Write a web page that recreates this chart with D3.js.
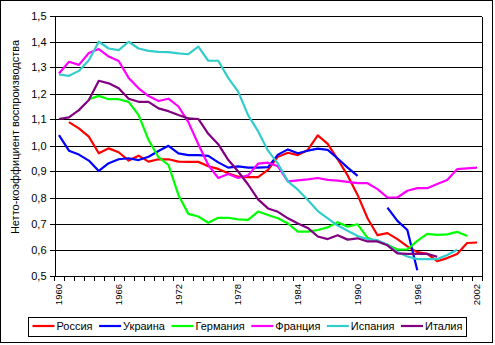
<!DOCTYPE html>
<html><head><meta charset="utf-8">
<script src="https://cdn.jsdelivr.net/npm/d3@7/dist/d3.min.js"></script>
<style>
html,body{margin:0;padding:0;background:#fff;}
svg{display:block;font-family:"Liberation Sans",Arial,sans-serif;}
</style></head>
<body>
<svg id="chart" width="495" height="345"></svg>
<script>
const years = [1960,1961,1962,1963,1964,1965,1966,1967,1968,1969,
  1970,1971,1972,1973,1974,1975,1976,1977,1978,1979,
  1980,1981,1982,1983,1984,1985,1986,1987,1988,1989,
  1990,1991,1992,1993,1994,1995,1996,1997,1998,1999,
  2000,2001,2002];
const xTickLabels = [1960,1966,1972,1978,1984,1990,1996,2002];
const yTicks = [0.5,0.6,0.7,0.8,0.9,1.0,1.1,1.2,1.3,1.4,1.5];
const seriesNames = ["Россия","Украина","Германия","Франция","Испания","Италия"];
const seriesColors = ["#FF0000","#0000FF","#00FF00","#FF00FF","#33CCCC","#800080"];

const russia = [null,1.09,1.066,1.034,0.97,0.989,0.974,0.942,0.961,0.938,
  0.947,0.947,0.938,0.937,0.937,0.92,0.91,0.893,0.88,0.878,
  0.878,0.906,0.957,0.972,0.963,0.983,1.039,1.006,0.947,0.885,
  0.81,0.72,0.655,0.663,0.64,0.612,0.59,0.583,0.555,0.567,
  0.583,0.625,0.627];
const ukraine = [1.04,0.98,0.965,0.942,0.902,0.932,0.947,0.951,0.944,0.957,
  0.979,0.999,0.97,0.963,0.963,0.96,0.935,0.915,0.92,0.915,
  0.915,0.917,0.965,0.985,0.97,0.98,0.988,0.983,0.95,0.915,
  0.883,null,null,0.761,0.71,0.675,0.52,null,null,null,
  null,null,null];
const germany = [null,null,null,1.178,1.191,1.178,1.178,1.168,1.117,1.021,
  0.955,0.925,0.81,0.737,0.727,0.703,0.722,0.722,0.716,0.714,
  0.746,0.733,0.72,0.70,0.669,0.669,0.675,0.685,0.705,0.688,
  0.697,0.645,0.631,0.618,0.6,0.6,0.633,0.66,0.656,0.658,
  0.668,0.652,null];
const france = [1.277,1.322,1.31,1.356,1.371,1.342,1.325,1.26,1.22,1.19,
  1.171,1.18,1.15,1.09,1.005,0.925,0.875,0.89,0.875,0.885,
  0.93,0.934,0.92,0.862,0.866,0.87,0.875,0.868,0.865,0.86,
  0.855,0.855,0.832,0.80,0.80,0.826,0.836,0.836,0.852,0.867,
  0.909,0.912,0.915];
const spain = [1.273,1.268,1.287,1.328,1.399,1.373,1.367,1.399,1.373,1.364,
  1.36,1.359,1.354,1.351,1.38,1.326,1.326,1.26,1.207,1.117,
  1.055,0.98,0.93,0.862,0.83,0.79,0.748,0.72,0.692,0.672,
  0.652,0.64,0.636,0.618,0.59,0.573,0.563,0.563,0.563,0.579,
  0.599,null,null];
const italy = [1.102,1.108,1.136,1.175,1.249,1.239,1.22,1.18,1.168,1.168,
  1.143,1.132,1.117,1.104,1.102,1.045,1.005,0.945,0.90,0.85,
  0.793,0.758,0.745,0.72,0.70,0.683,0.65,0.64,0.655,0.638,
  0.643,0.631,0.631,0.616,0.585,0.583,0.583,0.583,0.572,null,
  null,null,null];
const seriesValues = [russia,ukraine,germany,france,spain,italy];

const W = 495, H = 345;
const plot = {left:54, right:482, top:15.5, bottom:275.5};
const svg = d3.select("#chart");

// outer frame
svg.append("rect").attr("x",0.5).attr("y",0.5).attr("width",492).attr("height",342)
  .attr("fill","#fff").attr("stroke","#000").attr("stroke-width",1);

const x = d3.scaleBand().domain(years).range([plot.left, plot.right]).padding(0);
const y = d3.scaleLinear().domain([0.5,1.5]).range([plot.bottom, plot.top]);
const fmt = v => d3.format(".1f")(v).replace(".", ",");

// gridlines
svg.append("g").selectAll("line").data(yTicks).join("line")
  .attr("x1",plot.left).attr("x2",plot.right)
  .attr("y1",d=>Math.round(y(d))+0.5).attr("y2",d=>Math.round(y(d))+0.5)
  .attr("stroke","#000").attr("stroke-width",1).attr("shape-rendering","crispEdges");
// plot border right
svg.append("line").attr("x1",plot.right+0.5).attr("x2",plot.right+0.5)
  .attr("y1",Math.round(plot.top)+0.5).attr("y2",Math.round(plot.bottom)+0.5)
  .attr("stroke","#000").attr("shape-rendering","crispEdges");

// y axis
const yAxis = d3.axisLeft(y).tickValues(yTicks).tickSize(5).tickPadding(3).tickFormat(fmt);
const gy = svg.append("g").attr("transform",`translate(${plot.left+0.5},0.5)`).call(yAxis);
gy.selectAll("text").attr("font-size","11px").attr("fill","#000").attr("font-family","'Liberation Sans',Arial,sans-serif");
gy.selectAll("line,path").attr("stroke","#000").attr("shape-rendering","crispEdges");
gy.selectAll(".tick").attr("transform",d=>`translate(0,${Math.round(y(d))})`);

// x axis: ticks at band boundaries
const boundaries = years.map(d=>x(d)).concat([x(years[years.length-1])+x.bandwidth()]);
const gx = svg.append("g");
gx.append("line").attr("x1",plot.left).attr("x2",plot.right+1)
  .attr("y1",Math.round(plot.bottom)+0.5).attr("y2",Math.round(plot.bottom)+0.5)
  .attr("stroke","#000").attr("shape-rendering","crispEdges");
gx.selectAll("line.t").data(boundaries).join("line").attr("class","t")
  .attr("x1",d=>Math.round(d)+0.5).attr("x2",d=>Math.round(d)+0.5)
  .attr("y1",Math.round(plot.bottom)+0.5).attr("y2",Math.round(plot.bottom)+5)
  .attr("stroke","#000").attr("shape-rendering","crispEdges");
gx.selectAll("text").data(xTickLabels).join("text")
  .attr("transform",d=>`translate(${x(d)+x.bandwidth()/2+3.2},${plot.bottom+8.5}) rotate(-90)`)
  .attr("text-anchor","end").attr("font-size","9.5px").attr("fill","#000")
  .text(d=>d);

// y title
svg.append("text").attr("transform",`translate(19,137) rotate(-90)`)
  .attr("text-anchor","middle").attr("font-size","11px").attr("fill","#000")
  .text("Нетто-коэффициент воспроизводства");

// lines
const line = d3.line().defined(d=>d.v!=null)
  .x(d=>x(d.year)+x.bandwidth()/2).y(d=>y(d.v));
seriesValues.forEach((vals,i)=>{
  const data = years.map((yr,j)=>({year:yr,v:vals[j]}));
  svg.append("path").datum(data).attr("d",line).attr("fill","none")
    .attr("stroke",seriesColors[i]).attr("stroke-width",2.2)
    .attr("stroke-linejoin","round");
});

// legend
const lg = svg.append("g");
const items = [];
let cx = 0;
seriesNames.forEach((name,i)=>{
  const g = lg.append("g");
  g.append("line").attr("x1",0).attr("x2",22).attr("y1",0).attr("y2",0)
    .attr("stroke",seriesColors[i]).attr("stroke-width",2.2);
  const t = g.append("text").attr("x",24).attr("y",4).attr("font-size","11px").attr("fill","#000").text(name);
  const w = t.node().getComputedTextLength();
  g.attr("transform",`translate(${cx},0)`);
  cx += 24 + w + 6.5;
});
const contentW = cx - 6.5;
const boxW = contentW + 8;
const boxX = Math.round(247 - boxW/2) + 0.5;
svg.insert("rect", "g").lower();
svg.append("rect").attr("x",boxX).attr("y",317.5).attr("width",boxW).attr("height",19)
  .attr("fill","none").attr("stroke","#000").attr("shape-rendering","crispEdges");
lg.attr("transform",`translate(${boxX+4},326)`);
</script>
</body></html>
